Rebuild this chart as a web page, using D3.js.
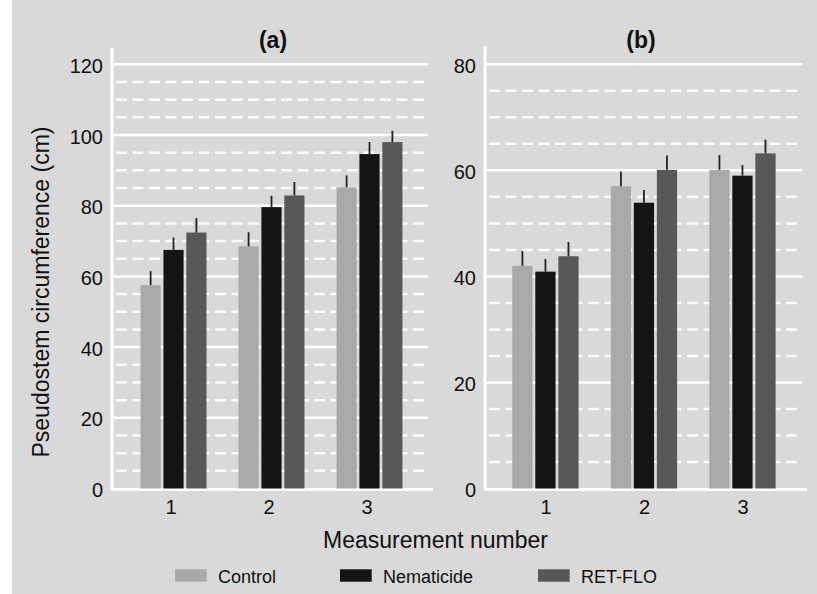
<!DOCTYPE html>
<html><head><meta charset="utf-8">
<script src="https://cdn.jsdelivr.net/npm/d3@7"></script>
<style>body{margin:0;background:#fff}svg{display:block}text{font-family:"Liberation Sans",Arial,sans-serif;fill:#111}</style>
</head><body><svg id="c" width="817" height="594"></svg>
<script>
const categories = ["1","2","3"];
const seriesNames = ["Control","Nematicide","RET-FLO"];
const colors = ["#a9a9a9","#141414","#585858"];
// Panel (a)
const aValues = {Control:[57.5,68.5,85.2], Nematicide:[67.5,79.6,94.6], "RET-FLO":[72.4,82.9,98.0]};
const aErrTop = {Control:[61.5,72.5,88.6], Nematicide:[71,82.8,98], "RET-FLO":[76.5,86.7,101.2]};
const aTicks = [0,20,40,60,80,100,120];
// Panel (b)
const bValues = {Control:[42.0,57.0,60.1], Nematicide:[40.9,53.9,59.0], "RET-FLO":[43.8,60.1,63.2]};
const bErrTop = {Control:[44.8,59.8,62.9], Nematicide:[43.3,56.3,61.0], "RET-FLO":[46.5,62.8,65.8]};
const bTicks = [0,20,40,60,80];

const svg = d3.select("#c");
svg.append("rect").attr("x",12).attr("y",0).attr("width",805).attr("height",594).attr("fill","#d9d9d9");

function panel(o){
  const g = svg.append("g");
  const y = d3.scaleLinear().domain([0,o.max]).range([488.5,64.3]);
  const x0 = d3.scaleBand().domain(categories).range([o.x0,o.x1]).paddingInner(0.327).paddingOuter(0.276);
  const x1 = d3.scaleBand().domain(seriesNames).range([0,x0.bandwidth()]).paddingInner(0.12);
  const minor = d3.range(0,o.max+0.1,5).filter(v=>v%20!==0);
  g.selectAll(".mn").data(minor).join("line")
    .attr("x1",o.gx0).attr("x2",o.gx1).attr("y1",d=>y(d)).attr("y2",d=>y(d))
    .attr("stroke","#fff").attr("stroke-width",2.5).attr("stroke-dasharray","11,5.5").attr("stroke-dashoffset",-4).attr("opacity",0.9);
  g.selectAll(".mj").data(o.ticks.filter(v=>v>0)).join("line")
    .attr("x1",o.gx0).attr("x2",o.gx1).attr("y1",d=>y(d)).attr("y2",d=>y(d))
    .attr("stroke","#fff").attr("stroke-width",2.5);
  g.append("line").attr("x1",o.gx0).attr("x2",o.gx0).attr("y1",y(0)+2).attr("y2",o.axTop).attr("stroke","#fff").attr("stroke-width",3);
  g.append("line").attr("x1",o.gx0).attr("x2",o.gx1+5).attr("y1",y(0)+1).attr("y2",y(0)+1).attr("stroke","#fff").attr("stroke-width",3);
  const ya = g.append("g").attr("transform",`translate(${o.gx0-9},0)`).call(d3.axisLeft(y).tickValues(o.ticks).tickSize(0).tickPadding(0));
  ya.select(".domain").remove();
  ya.selectAll("text").attr("font-size",20).attr("fill","#111").attr("dy","0.4em").style("font-family","Liberation Sans, Arial, sans-serif");
  const xa = g.append("g").attr("transform",`translate(${o.lx},${y(0)})`).call(d3.axisBottom(x0).tickSize(0).tickPadding(11));
  xa.select(".domain").remove();
  xa.selectAll("text").attr("font-size",20).attr("fill","#111").style("font-family","Liberation Sans, Arial, sans-serif");
  seriesNames.forEach((s,si)=>{
    const vals = o.values[s], errs = o.err[s];
    g.selectAll(".b"+si).data(categories).join("rect")
      .attr("x",c=>x0(c)+x1(s)).attr("width",x1.bandwidth())
      .attr("y",(c,i)=>y(vals[i])).attr("height",(c,i)=>y(0)-y(vals[i]))
      .attr("fill",colors[si]);
    g.selectAll(".e"+si).data(categories).join("line")
      .attr("x1",c=>x0(c)+x1(s)+x1.bandwidth()/2).attr("x2",c=>x0(c)+x1(s)+x1.bandwidth()/2)
      .attr("y1",(c,i)=>y(vals[i])).attr("y2",(c,i)=>y(errs[i]))
      .attr("stroke","#222").attr("stroke-width",1.8);
  });
  g.append("text").attr("x",o.tx).attr("y",48).attr("text-anchor","middle").attr("font-size",23).attr("font-weight","bold").text(o.title);
}

panel({max:120, ticks:aTicks, values:aValues, err:aErrTop, x0:113.5, x1:429.5, gx0:112, gx1:428, axTop:48, tx:273, lx:-2.5, title:"(a)"});
panel({max:80, ticks:bTicks, values:bValues, err:bErrTop, x0:485.1, x1:802.8, gx0:485, gx1:802, axTop:46, tx:641, lx:0.5, title:"(b)"});

svg.append("text").attr("transform","translate(49,292) rotate(-90)").attr("text-anchor","middle").attr("font-size",23).text("Pseudostem circumference (cm)");
svg.append("text").attr("x",435.5).attr("y",548).attr("text-anchor","middle").attr("font-size",23).text("Measurement number");

const legX = [175,340,538];
const lg = svg.append("g");
seriesNames.forEach((s,i)=>{
  lg.append("rect").attr("x",legX[i]).attr("y",569.3).attr("width",31.7).attr("height",12.4).attr("fill",colors[i]);
  lg.append("text").attr("x",legX[i]+43).attr("y",582.7).attr("font-size",18).text(s);
});
</script></body></html>
